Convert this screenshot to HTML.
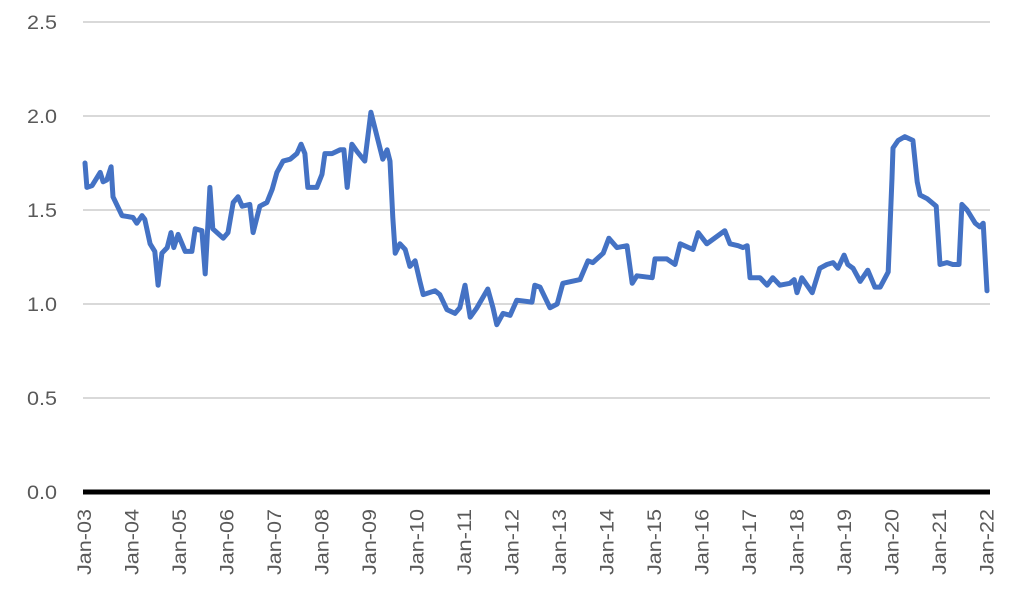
<!DOCTYPE html>
<html><head><meta charset="utf-8"><style>
html,body{margin:0;padding:0;background:#fff}
svg{display:block}
text{font-family:"Liberation Sans Narrow","Liberation Sans",sans-serif;fill:#595959}
</style></head><body>
<svg id="chart" width="1032" height="604" viewBox="0 0 1032 604" xmlns="http://www.w3.org/2000/svg">
<g id="grid"></g>
<g id="yaxis"></g>
<g id="xaxis"></g>
<path id="series" fill="none" stroke="#4472C4" stroke-width="5" stroke-linejoin="round" stroke-linecap="round"/>
<line id="baseline" x1="83" x2="990" y1="492" y2="492" stroke="#000" stroke-width="5"/>
</svg>
<script>
const yTicks=[0,0.5,1.0,1.5,2.0,2.5];
const yTickLabels=["0.0","0.5","1.0","1.5","2.0","2.5"];
const xTickYears=[2003,2004,2005,2006,2007,2008,2009,2010,2011,2012,2013,2014,2015,2016,2017,2018,2019,2020,2021,2022];
const xTickLabels=["Jan-03","Jan-04","Jan-05","Jan-06","Jan-07","Jan-08","Jan-09","Jan-10","Jan-11","Jan-12","Jan-13","Jan-14","Jan-15","Jan-16","Jan-17","Jan-18","Jan-19","Jan-20","Jan-21","Jan-22"];
const dates=[2003.00,2003.04,2003.15,2003.32,2003.38,2003.46,2003.55,2003.59,2003.78,2004.01,2004.09,2004.20,2004.26,2004.37,2004.47,2004.54,2004.62,2004.73,2004.81,2004.87,2004.96,2005.11,2005.25,2005.32,2005.46,2005.53,2005.63,2005.69,2005.91,2006.01,2006.12,2006.22,2006.31,2006.47,2006.54,2006.68,2006.83,2006.94,2007.04,2007.17,2007.32,2007.46,2007.55,2007.63,2007.69,2007.88,2007.99,2008.05,2008.20,2008.37,2008.45,2008.52,2008.62,2008.73,2008.89,2009.02,2009.15,2009.27,2009.36,2009.42,2009.48,2009.53,2009.63,2009.74,2009.84,2009.95,2010.05,2010.12,2010.37,2010.47,2010.62,2010.79,2010.89,2011.00,2011.11,2011.25,2011.48,2011.59,2011.67,2011.80,2011.95,2012.09,2012.41,2012.47,2012.58,2012.79,2012.94,2013.06,2013.42,2013.59,2013.69,2013.91,2014.03,2014.20,2014.41,2014.52,2014.62,2014.94,2015.00,2015.25,2015.42,2015.53,2015.80,2015.91,2016.09,2016.47,2016.58,2016.75,2016.85,2016.94,2017.00,2017.21,2017.36,2017.48,2017.63,2017.84,2017.93,2017.99,2018.09,2018.31,2018.47,2018.62,2018.75,2018.85,2018.98,2019.06,2019.17,2019.32,2019.48,2019.63,2019.74,2019.91,2019.99,2020.01,2020.12,2020.26,2020.43,2020.52,2020.58,2020.73,2020.92,2021.00,2021.15,2021.27,2021.40,2021.46,2021.57,2021.74,2021.84,2021.91,2021.99];
const values=[1.75,1.62,1.63,1.70,1.65,1.66,1.73,1.57,1.47,1.46,1.43,1.47,1.45,1.32,1.28,1.10,1.27,1.30,1.38,1.30,1.37,1.28,1.28,1.40,1.39,1.16,1.62,1.40,1.35,1.38,1.54,1.57,1.52,1.53,1.38,1.52,1.54,1.61,1.70,1.76,1.77,1.80,1.85,1.80,1.62,1.62,1.69,1.80,1.80,1.82,1.82,1.62,1.85,1.81,1.76,2.02,1.89,1.77,1.82,1.76,1.46,1.27,1.32,1.29,1.20,1.23,1.12,1.05,1.07,1.05,0.97,0.95,0.98,1.10,0.93,0.98,1.08,0.98,0.89,0.95,0.94,1.02,1.01,1.10,1.09,0.98,1.00,1.11,1.13,1.23,1.22,1.27,1.35,1.30,1.31,1.11,1.15,1.14,1.24,1.24,1.21,1.32,1.29,1.38,1.32,1.39,1.32,1.31,1.30,1.31,1.14,1.14,1.10,1.14,1.10,1.11,1.13,1.06,1.14,1.06,1.19,1.21,1.22,1.19,1.26,1.21,1.19,1.12,1.18,1.09,1.09,1.17,1.67,1.83,1.87,1.89,1.87,1.65,1.58,1.56,1.52,1.21,1.22,1.21,1.21,1.53,1.50,1.43,1.41,1.43,1.07];

const NS="http://www.w3.org/2000/svg";
function xScale(t){return 85+(t-2003)*47.5;}
function yScale(v){return 492-v*188;}
const grid=document.getElementById('grid'),ya=document.getElementById('yaxis'),xa=document.getElementById('xaxis');
yTicks.forEach((v,i)=>{
  if(v>0){
    const l=document.createElementNS(NS,'line');
    
    
    l.setAttribute('x1',83);l.setAttribute('x2',990);
    l.setAttribute('y1',yScale(v));l.setAttribute('y2',yScale(v));
    l.setAttribute('stroke','#d9d9d9');l.setAttribute('stroke-width','2');
    grid.appendChild(l);
  }
  const t=document.createElementNS(NS,'text');
  
  
  t.setAttribute('x',57);t.setAttribute('y',yScale(v)+7);
  t.setAttribute('text-anchor','end');t.setAttribute('font-size','19');
  t.setAttribute('textLength','30');t.setAttribute('lengthAdjust','spacingAndGlyphs');
  t.textContent=yTickLabels[i];
  ya.appendChild(t);
});
xTickYears.forEach((yr,i)=>{
  const x=xScale(yr)+6;
  const t=document.createElementNS(NS,'text');
  
  
  t.setAttribute('transform','translate('+x+',509) rotate(-90)');
  t.setAttribute('text-anchor','end');t.setAttribute('font-size','19');
  t.setAttribute('textLength','66');t.setAttribute('lengthAdjust','spacingAndGlyphs');
  t.textContent=xTickLabels[i];
  xa.appendChild(t);
});
let d='';
dates.forEach((t,i)=>{d+=(i?'L':'M')+xScale(t).toFixed(1)+','+yScale(values[i]).toFixed(1);});
document.getElementById('series').setAttribute('d',d);
</script>
</body></html>
